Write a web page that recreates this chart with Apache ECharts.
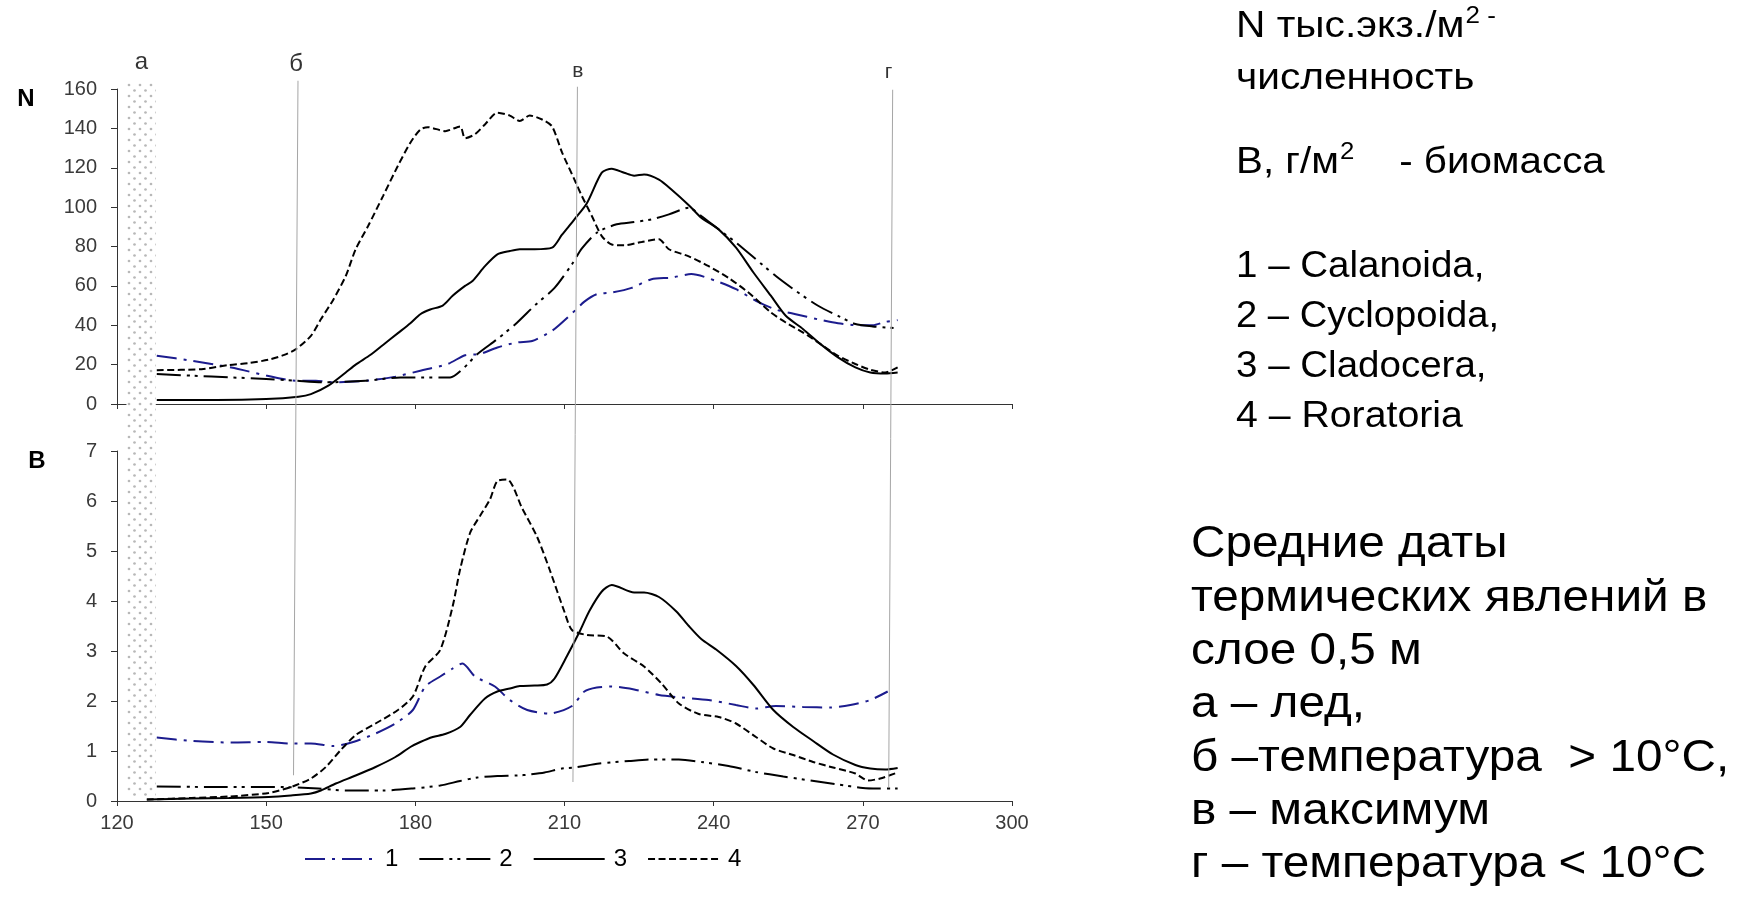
<!DOCTYPE html>
<html>
<head>
<meta charset="utf-8">
<script src="https://cdn.jsdelivr.net/npm/echarts@6/dist/echarts.min.js"></script>
<style>
  html, body { margin: 0; padding: 0; background: #fff; }
  #chart { width: 1742px; height: 910px; }
</style>
</head>
<body>
<div id="chart"></div>
<script>
// численность N, тыс.экз./м2 : [сутки, значение]
const calanoidaN = [[128,24.5],[135,22],[143,18.5],[150,14.5],[156,11.8],[160,11.8],[163.5,11],[170,11.8],[176,13.9],[181,16.9],[186.5,20.3],[190,24.8],[193,25.4],[196.5,28.7],[200.5,31.3],[203.5,32],[207.5,37.2],[211.5,46],[214,52],[216.5,55.8],[219.5,56.6],[223.5,59],[227.5,63.4],[231.5,64.2],[235.5,66],[240.5,62.5],[244.5,58.3],[248.5,52.4],[252.5,48],[256.5,45.6],[261,43],[265,41],[269,40],[272,40],[274.5,41.7],[277,42.6]];
const cyclopoidaN = [[128,15.2],[135,14.4],[143,13.5],[150,12.7],[156,11.8],[162,11],[170,11.8],[177,13.5],[181,13.5],[187,13.5],[189.5,17.7],[192.5,25.4],[196.5,33],[200.5,41.4],[204,50],[208,59],[211.5,71],[213.5,79],[216.5,87],[220.5,91.3],[224,92.4],[227.5,93.8],[231,96.3],[235,99.7],[237.5,95.5],[241,88.7],[244.5,82],[248.5,73.5],[252.5,65],[256.5,57.5],[261,49.9],[265,44.8],[268.5,40.6],[272,39.4],[274.5,38.9],[277,38.4]];
const cladoceraN = [[128,2],[140,2],[150,2.5],[156.5,3.7],[159,5],[162.5,9.3],[166,16],[168,20],[171,25],[173.5,30],[176.5,36],[179,41],[181,45.6],[183,48],[185.5,50],[187.5,55],[190,60],[191.5,62.5],[194,70],[196.5,76],[199,77.7],[201,78.6],[204,78.6],[207.5,79.4],[209.5,86],[212,93.8],[214.5,102],[217.5,117.5],[219.5,119.5],[222,117.5],[224,116],[226,116.6],[229,114],[231.5,109],[235,101],[237.5,94.6],[241,88.7],[244.5,79.4],[248,66.8],[251.5,55],[254.5,44.8],[258,38],[261.5,30.4],[265,23.7],[268.5,18.6],[271.5,16],[274.5,15.5],[277,16]];
const rotatoriaN = [[128,17.2],[137,17.7],[142.5,19.8],[146.5,20.8],[150.5,22.5],[153.5,24.8],[156,27.9],[159,34.6],[161,43],[163.5,53],[166,65],[168,78.6],[170.5,90.4],[173.5,105.6],[176.5,121],[179,132.7],[181,139.4],[182.5,140.6],[186,138.6],[189,141],[190,135],[192,137],[194,142],[196.5,148],[199,146.5],[201,143.7],[203,146.5],[205.5,144.5],[207.5,141],[209.5,127.8],[212,114],[213.5,105.6],[215.5,95.5],[217.5,85.3],[219.5,81],[222,80.6],[225.5,82.3],[229,83.7],[231,78.6],[235,75],[239,70],[243,64],[247,56.6],[251.5,46.5],[254.5,41.4],[258,36.3],[261.5,30.4],[265,24.5],[268.5,20.3],[271.5,17.4],[274.5,16],[277,18.6]];

// биомасса B, г/м2
const calanoidaB = [[128,1.27],[135,1.2],[143,1.17],[150,1.18],[155,1.15],[159,1.15],[163.5,1.1],[167.5,1.18],[172,1.35],[176,1.55],[179.5,1.82],[182,2.29],[185,2.49],[187.5,2.65],[189.5,2.75],[192,2.49],[196,2.29],[199,2.02],[202.5,1.82],[207,1.75],[211.5,1.9],[214,2.19],[216.5,2.27],[219.5,2.29],[224,2.23],[229,2.12],[233.5,2.07],[239,2.02],[244.5,1.92],[248.5,1.85],[252.5,1.9],[258,1.88],[263.5,1.87],[267.5,1.92],[271.5,2.02],[275,2.19]];
const cyclopoidaB = [[128,0.29],[140,0.28],[152,0.28],[160.5,0.25],[166,0.21],[173.5,0.21],[179.5,0.25],[185,0.31],[189,0.4],[192.5,0.47],[196.5,0.5],[200.5,0.51],[203,0.53],[206,0.57],[209.5,0.65],[212,0.67],[217,0.75],[223,0.8],[227.5,0.83],[233,0.83],[237.5,0.78],[243,0.7],[248.5,0.58],[254,0.49],[259.5,0.41],[265,0.33],[270,0.26],[273,0.25],[277,0.25]];
const cladoceraB = [[126,0.03],[135,0.05],[142.5,0.06],[150.5,0.08],[155,0.11],[159,0.15],[161,0.21],[164,0.35],[168,0.51],[172,0.68],[176,0.88],[179,1.08],[181,1.18],[183.5,1.28],[186,1.34],[189,1.48],[191,1.72],[194,2.05],[196.5,2.19],[199,2.25],[201,2.3],[204,2.31],[206.5,2.33],[208,2.45],[210.5,2.9],[213,3.38],[215,3.8],[217.5,4.19],[219.5,4.32],[224,4.17],[226,4.17],[229,4.08],[232.5,3.79],[235,3.5],[237.5,3.24],[240.5,3.03],[244.5,2.7],[248,2.32],[252,1.82],[256,1.48],[260,1.2],[264,0.93],[268.5,0.72],[271.5,0.65],[274.5,0.63],[277,0.66]];
const rotatoriaB = [[126,0.03],[135,0.06],[142.5,0.09],[150.5,0.16],[155,0.28],[159,0.45],[162,0.68],[165,1.02],[168,1.32],[172,1.55],[176.5,1.82],[179.5,2.09],[182,2.69],[185,3.02],[187.5,3.89],[189,4.63],[191,5.36],[193,5.7],[195,6.03],[196.5,6.4],[198.5,6.43],[201.5,5.85],[204.5,5.28],[207,4.63],[210,3.78],[211.5,3.42],[214.5,3.32],[218.5,3.29],[222,2.95],[226,2.69],[229.5,2.35],[233,1.95],[237,1.74],[241,1.68],[244.5,1.55],[248.5,1.28],[252,1.05],[256,0.92],[260,0.78],[264,0.67],[268.5,0.55],[271,0.41],[273.5,0.45],[277,0.57]];

// даты термических явлений (сутки), доли высоты общей полосы: верх / низ
const eventNames = ['а', 'б', 'в', 'г'];
const eventLabelDays = [124.9, 156.0, 212.7, 275.2];
const eventLabelPos = [0.017, 0.019, 0.028, 0.029];
const eventLines = [[[156.4, 0.041], [155.5, 0.967]], [[212.6, 0.049], [211.7, 0.976]], [[276.0, 0.053], [275.2, 0.983]]];
const iceBand = [[121.9, 0.043], [127.8, 0.996]];

const legendNames = ['1', '2', '3', '4'];
const xTicks = { min: 120, max: 300, step: 30 };

const FONT = '"Liberation Sans", Arial, sans-serif';
const BLUE = '#1c1c8e';

// точечная заливка ледового периода
function makeDots() {
  const c = document.createElement('canvas');
  c.width = 11; c.height = 11;
  const ctx = c.getContext('2d');
  ctx.fillStyle = '#fff';
  ctx.fillRect(0, 0, 11, 11);
  ctx.fillStyle = '#b8b8b8';
  [[2.5, 2.5], [8, 8]].forEach(p => {
    ctx.beginPath();
    ctx.arc(p[0], p[1], 1.35, 0, Math.PI * 2);
    ctx.fill();
  });
  return c;
}

const STYLES = [
  { color: BLUE, type: [20, 7, 3, 7] },
  { color: '#000', type: [24, 6, 3, 5, 3, 6] },
  { color: '#000', type: 'solid' },
  { color: '#000', type: [7, 3.5] }
];

function lineSeries(name, data, idx, styleIdx) {
  const st = STYLES[styleIdx];
  return {
    name: name,
    type: 'line',
    xAxisIndex: idx,
    yAxisIndex: idx,
    data: data,
    symbol: 'none',
    smooth: 0.25,
    z: 3,
    lineStyle: { color: st.color, width: 2, type: st.type },
    itemStyle: { color: st.color }
  };
}

function xAxisCfg(idx, labels) {
  return {
    type: 'value', gridIndex: idx,
    min: xTicks.min, max: xTicks.max, interval: xTicks.step,
    axisLine: { onZero: false, lineStyle: { color: '#333', width: 1 } },
    axisTick: { show: true, length: 5, lineStyle: { color: '#333' } },
    axisLabel: { show: labels, color: '#3a3a3a', fontSize: 20, fontFamily: FONT, margin: 12 },
    splitLine: { show: false }
  };
}

function yAxisCfg(idx, max, step) {
  return {
    type: 'value', gridIndex: idx,
    min: 0, max: max, interval: step,
    axisLine: { show: true, lineStyle: { color: '#333', width: 1 } },
    axisTick: { show: true, length: 6, lineStyle: { color: '#333' } },
    axisLabel: { color: '#3a3a3a', fontSize: 20, fontFamily: FONT, margin: 20 },
    splitLine: { show: false }
  };
}

function textEl(x, y, text, size, sx, rich) {
  return {
    type: 'text', x: x, y: y, z: 10, scaleX: sx,
    style: {
      text: text, fill: '#000', font: size + 'px ' + FONT,
      fontSize: size, fontFamily: FONT,
      align: 'left', verticalAlign: 'middle',
      rich: rich || {}
    }
  };
}

function init() {
  const chart = echarts.init(document.getElementById('chart'));

  const sup = (size) => ({
    base: { fontSize: size, fontFamily: FONT, color: '#000', lineHeight: size * 1.2 },
    s: { fontSize: Math.round(size * 0.64), fontFamily: FONT, color: '#000', verticalAlign: 'top', lineHeight: size * 1.1, padding: [0, 0, 0, 1] }
  });

  const rightTop = 36;
  const rightBottom = 45;
  // [y, текст, растяжение по x]
  const topLines = [
    [27, '{base|N тыс.экз./м}{s|2 -}', 1.13],
    [79, 'численность', 1.13],
    [163, '{base|В, г/м}{s|2}{base|    - биомасса}', 1.12],
    [267, '1 – Calanoida,', 1.07],
    [317, '2 – Cyclopoida,', 1.06],
    [367, '3 – Cladocera,', 1.07],
    [417, '4 – Roratoria', 1.09]
  ];
  const bottomLines = [
    'Средние даты',
    'термических явлений в',
    'слое 0,5 м',
    'а – лед,',
    'б –температура  > 10°C,',
    'в – максимум',
    'г – температура < 10°C'
  ];

  const graphic = [];
  topLines.forEach(l => graphic.push(textEl(1236, l[0], l[1], rightTop, l[2], sup(rightTop))));
  bottomLines.forEach((t, i) => graphic.push(textEl(1191, 545 + 53.3 * i, t, rightBottom, 1.06)));
  graphic.push({ type: 'text', x: 26, y: 99, z: 10, style: { text: 'N', fill: '#000', font: 'bold 24px ' + FONT, align: 'center', verticalAlign: 'middle' } });
  graphic.push({ type: 'text', x: 37, y: 461, z: 10, style: { text: 'В', fill: '#000', font: 'bold 24px ' + FONT, align: 'center', verticalAlign: 'middle' } });

  chart.setOption({
    backgroundColor: '#fff',
    animation: false,
    grid: [
      { left: 117, right: 730, top: 89, height: 315 },
      { left: 117, right: 730, top: 451, height: 350 },
      { left: 117, right: 730, top: 50, height: 750 }
    ],
    xAxis: [
      xAxisCfg(0, false),
      xAxisCfg(1, true),
      { type: 'value', gridIndex: 2, min: xTicks.min, max: xTicks.max, show: false }
    ],
    yAxis: [
      yAxisCfg(0, 160, 20),
      yAxisCfg(1, 7, 1),
      { type: 'value', gridIndex: 2, min: 0, max: 1, inverse: true, show: false }
    ],
    legend: {
      data: legendNames,
      left: 299, top: 842,
      itemWidth: 71, itemHeight: 14, itemGap: 20,
      itemStyle: { opacity: 0 },
      textStyle: { fontSize: 24, fontFamily: FONT, color: '#000', padding: [0, 0, 0, 4] }
    },
    graphic: graphic,
    series: [
      lineSeries('1', calanoidaN, 0, 0),
      lineSeries('2', cyclopoidaN, 0, 1),
      lineSeries('3', cladoceraN, 0, 2),
      lineSeries('4', rotatoriaN, 0, 3),
      lineSeries('1', calanoidaB, 1, 0),
      lineSeries('2', cyclopoidaB, 1, 1),
      lineSeries('3', cladoceraB, 1, 2),
      lineSeries('4', rotatoriaB, 1, 3),
      {
        name: 'events',
        type: 'scatter',
        xAxisIndex: 2, yAxisIndex: 2,
        z: 1,
        symbolSize: 0,
        silent: true,
        data: eventNames.map((n, i) => ({
          name: n,
          value: [eventLabelDays[i], eventLabelPos[i]],
          label: { fontSize: i < 2 ? 24 : 21 }
        })),
        label: {
          show: true, position: 'inside', formatter: '{b}',
          color: '#000', fontFamily: FONT
        },
        markLine: {
          silent: true,
          symbol: 'none',
          label: { show: false },
          lineStyle: { color: '#a6a6a6', width: 1, type: 'solid' },
          data: eventLines.map(l => [{ coord: l[0] }, { coord: l[1] }])
        },
        markArea: {
          silent: true,
          itemStyle: { color: { image: makeDots(), repeat: 'repeat' } },
          data: [[{ coord: iceBand[0] }, { coord: iceBand[1] }]]
        }
      }
    ]
  });

  window.addEventListener('resize', () => chart.resize());
}

init();
</script>
</body>
</html>
